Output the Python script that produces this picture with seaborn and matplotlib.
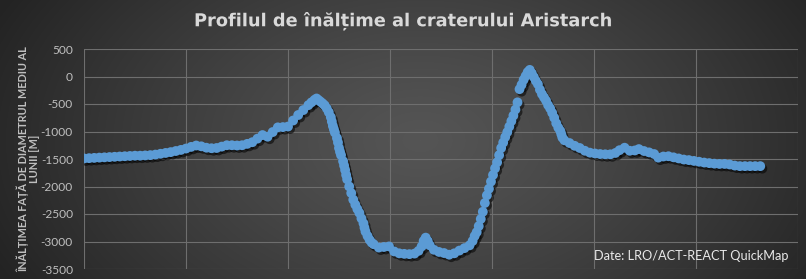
import numpy as np
import pandas as pd
import matplotlib
matplotlib.use("Agg")
import matplotlib.pyplot as plt
import matplotlib.patheffects as pe
import seaborn as sns

# ---- data ----
distance_km = [
    0.0, 0.5, 1.0, 1.5, 2.0, 2.5, 3.0, 3.5, 4.0, 4.5, 5.0, 5.5, 6.0, 6.5, 7.0, 7.5,
    8.0, 8.5, 9.0, 9.5, 10.0, 10.5, 11.0, 11.5, 12.0, 12.5, 13.0, 13.5, 14.0, 14.5,
    15.0, 15.5, 16.0, 16.5, 17.0, 17.5, 18.0, 18.5, 19.0, 19.5, 20.0, 20.5, 21.0,
    21.5, 22.0, 22.3,
    22.6, 22.8, 23.0, 23.2, 23.4, 23.6, 23.8, 24.0, 24.2, 24.3, 24.4, 24.5, 24.6,
    24.8, 24.9, 25.0, 25.1, 25.2, 25.4, 25.5, 25.6, 25.7, 25.8, 26.0, 26.2, 26.4,
    26.6, 26.8, 27.0, 27.2, 27.4, 27.5, 27.6, 27.8, 28.0, 28.2, 28.4,
    28.9, 29.4, 29.9, 30.4, 30.9, 31.4, 31.9, 32.4, 32.8, 33.1, 33.3, 33.5, 33.7,
    33.9, 34.3, 34.8, 35.3, 35.8, 36.3, 36.8, 37.3, 37.8, 38.1, 38.3,
    38.5, 38.7, 38.9, 39.1, 39.3, 39.5, 39.7, 39.9, 40.1, 40.3, 40.5, 40.7, 40.9,
    41.1, 41.3, 41.5, 41.7, 41.9, 42.1, 42.3, 42.5, 42.7, 42.9, 43.1, 43.3, 43.5,
    43.7, 43.9, 44.1, 44.3, 44.5, 44.7, 44.9, 45.1, 45.3, 45.5, 45.7, 45.9, 46.1,
    46.3, 46.5, 46.7, 46.8, 46.9, 47.1,
    47.6, 48.1, 48.6, 49.1, 49.6, 50.1, 50.6, 51.1, 51.6, 52.1, 52.5, 53.0, 53.5,
    54.0, 54.4, 54.9, 55.4, 55.9, 56.3, 56.8, 57.3, 57.8, 58.3, 58.8, 59.3, 59.8,
    60.3, 60.8, 61.3, 61.8, 62.3, 62.8, 63.3, 63.8, 64.3, 64.8, 65.3, 65.8, 66.3,
]
elevation_m = [
    -1490, -1485, -1480, -1475, -1470, -1465, -1460, -1455, -1450, -1445, -1440,
    -1440, -1435, -1430, -1420, -1405, -1390, -1375, -1355, -1335, -1310, -1280,
    -1255, -1270, -1295, -1305, -1300, -1275, -1250, -1250, -1255, -1250, -1225,
    -1195, -1130, -1065, -1095, -1010, -925, -920, -910, -800, -700, -610, -520,
    -470,
    -425, -400, -430, -460, -490, -525, -580, -650, -740, -820, -900, -960, -1020,
    -1120, -1200, -1300, -1370, -1430, -1540, -1620, -1700, -1790, -1870, -2000,
    -2120, -2240, -2330, -2410, -2480, -2580, -2670, -2750, -2820, -2900, -2970,
    -3020, -3050,
    -3110, -3100, -3090, -3180, -3215, -3225, -3230, -3220, -3170, -3090, -2990,
    -2930, -2990, -3070, -3150, -3190, -3210, -3240, -3215, -3165, -3120, -3070,
    -2990, -2900,
    -2830, -2720, -2590, -2460, -2300, -2160, -2040, -1910, -1790, -1670, -1560,
    -1430, -1300, -1200, -1100, -1010, -910, -810, -710, -600, -470, -230, -150,
    -60, 10, 80, 120, 60, -10, -80, -140, -240, -320, -380, -440, -520, -580,
    -660, -750, -850, -930, -990, -1050, -1110, -1160,
    -1210, -1260, -1300, -1350, -1385, -1400, -1410, -1415, -1415, -1390, -1340,
    -1295, -1350, -1345, -1320, -1355, -1380, -1410, -1475, -1455, -1450, -1470,
    -1490, -1510, -1520, -1535, -1550, -1565, -1575, -1585, -1590, -1590, -1600,
    -1620, -1630, -1630, -1630, -1630, -1630,
]
y_ticks = [500, 0, -500, -1000, -1500, -2000, -2500, -3000, -3500]
x_grid = [0, 10, 20, 30, 40, 50, 60, 70]

title_text = "Profilul de înălțime al craterului Aristarch"
ylabel_text = "ÎNĂLȚIMEA FAȚĂ DE DIAMETRUL MEDIU AL\nLUNII [M]"
source_text = "Date: LRO/ACT-REACT QuickMap"

df = pd.DataFrame({"distance": distance_km, "elevation": elevation_m})

sns.set_theme(style="dark")
plt.rcParams["font.family"] = ["Lato", "DejaVu Sans"]

W, H = 806, 279
fig = plt.figure(figsize=(W / 100, H / 100), dpi=100)

# background radial gradient
bg = fig.add_axes([0, 0, 1, 1], zorder=-10)
yy, xx = np.mgrid[0:H, 0:W]
r = np.sqrt(((xx - 420) / 470.0) ** 2 + ((yy - 140) / 300.0) ** 2)
r = np.clip(r, 0, 1) ** 1.2
c_center = np.array([0x55, 0x55, 0x55]) / 255.0
c_edge = np.array([0x23, 0x23, 0x23]) / 255.0
img = c_center[None, None, :] * (1 - r[..., None]) + c_edge[None, None, :] * r[..., None]
bg.imshow(img, aspect="auto", extent=[0, 1, 0, 1], origin="upper")
bg.set_axis_off()

ax = fig.add_axes([84 / W, 1 - 269 / H, (798 - 84) / W, (269 - 49) / H])
ax.set_facecolor("none")

sns.scatterplot(data=df, x="distance", y="elevation", ax=ax, color="#5B9BD5",
                s=50, edgecolor="none", linewidth=0, legend=False, zorder=3)
for coll in ax.collections:
    coll.set_path_effects([pe.SimplePatchShadow(offset=(1.5, -1.8), shadow_rgbFace="black", alpha=0.55),
                           pe.Normal()])

ax.set_xlim(0, 70)
ax.set_ylim(-3500, 500)
ax.set_yticks(y_ticks)
ax.set_yticklabels([str(v) for v in y_ticks])
ax.set_xticks(x_grid)
ax.set_xticklabels([])
ax.grid(True, color="#6e6e6e", linewidth=0.8)
ax.set_axisbelow(True)
for s in ax.spines.values():
    s.set_visible(False)
ax.tick_params(axis="y", colors="#bfbfbf", labelsize=8.6, length=0, pad=8)
ax.tick_params(axis="x", length=0)
ax.set_xlabel("")
ax.set_ylabel("")

fig.text(28 / W, 0.5 * ((1 - 269 / H) + (1 - 49 / H)), ylabel_text, rotation=90,
         ha="center", va="center", color="#bfbfbf", fontsize=7.8, fontweight="bold",
         linespacing=0.95)

fig.text(403 / W, 1 - 21 / H, title_text, ha="center", va="center",
         color="#d9d9d9", fontsize=12.8, fontweight="bold", family="DejaVu Sans",
         path_effects=[pe.withSimplePatchShadow(offset=(1, -1), alpha=0.6)])

fig.text(789 / W, 1 - 256 / H, source_text, ha="right", va="center",
         color="#e8e8e8", fontsize=9.2)

fig.savefig("out.png", dpi=100)
